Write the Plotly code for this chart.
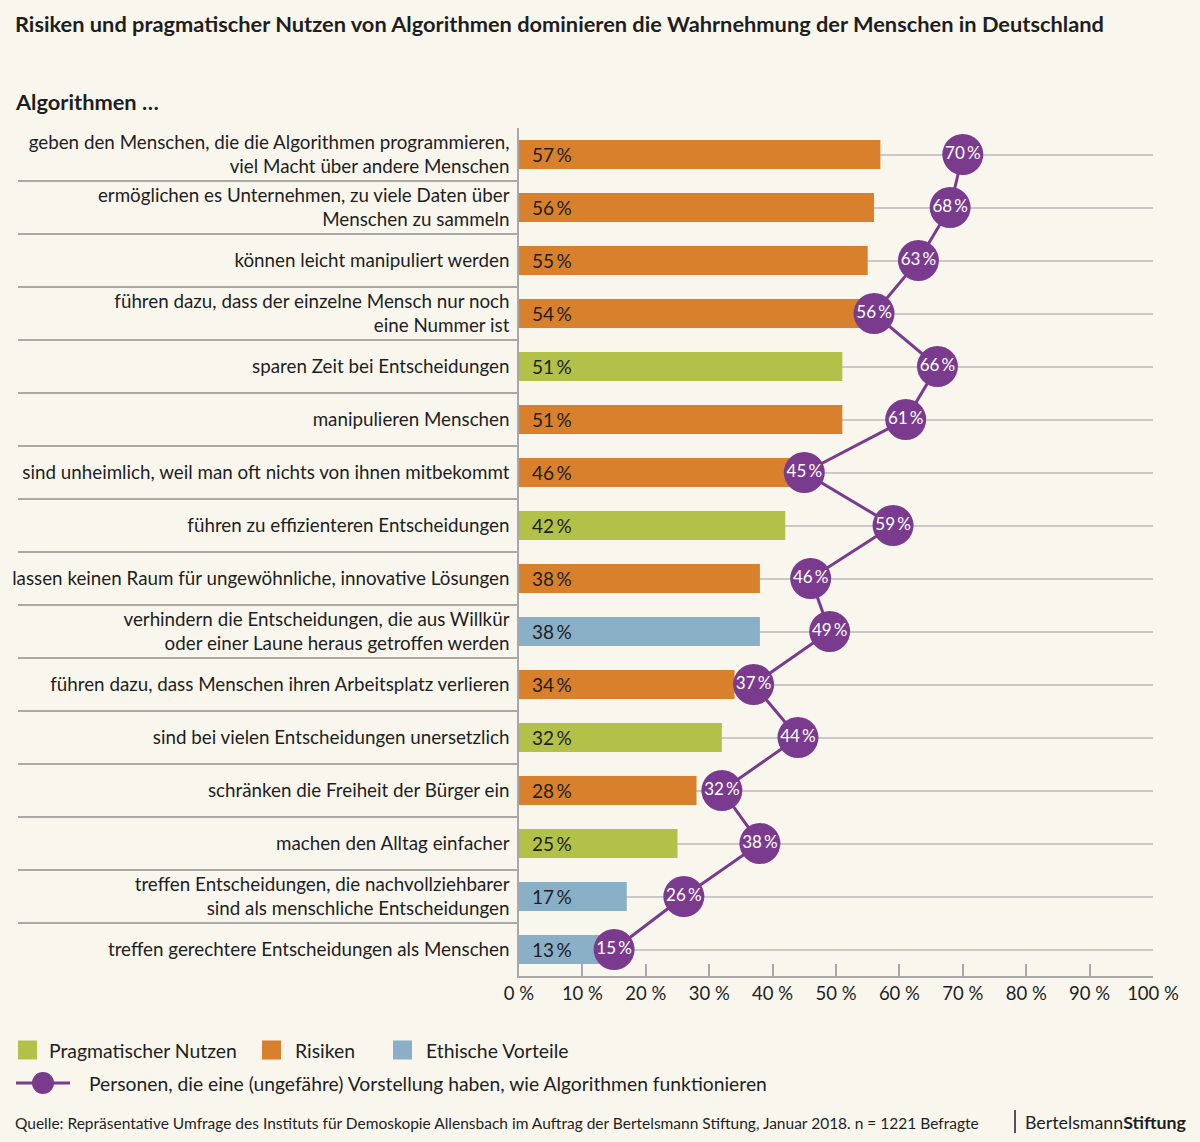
import plotly.graph_objects as go

categories = [
    "geben den Menschen, die die Algorithmen programmieren,<br>viel Macht über andere Menschen",
    "ermöglichen es Unternehmen, zu viele Daten über<br>Menschen zu sammeln",
    "können leicht manipuliert werden",
    "führen dazu, dass der einzelne Mensch nur noch<br>eine Nummer ist",
    "sparen Zeit bei Entscheidungen",
    "manipulieren Menschen",
    "sind unheimlich, weil man oft nichts von ihnen mitbekommt",
    "führen zu effizienteren Entscheidungen",
    "lassen keinen Raum für ungewöhnliche, innovative Lösungen",
    "verhindern die Entscheidungen, die aus Willkür<br>oder einer Laune heraus getroffen werden",
    "führen dazu, dass Menschen ihren Arbeitsplatz verlieren",
    "sind bei vielen Entscheidungen unersetzlich",
    "schränken die Freiheit der Bürger ein",
    "machen den Alltag einfacher",
    "treffen Entscheidungen, die nachvollziehbarer<br>sind als menschliche Entscheidungen",
    "treffen gerechtere Entscheidungen als Menschen",
]
all_values = [57, 56, 55, 54, 51, 51, 46, 42, 38, 38, 34, 32, 28, 25, 17, 13]
groups = ["R", "R", "R", "R", "P", "R", "R", "P", "R", "E", "R", "P", "R", "P", "E", "E"]
knowers = [70, 68, 63, 56, 66, 61, 45, 59, 46, 49, 37, 44, 32, 38, 26, 15]
tick_vals = [0, 10, 20, 30, 40, 50, 60, 70, 80, 90, 100]
tick_text = ["0 %", "10 %", "20 %", "30 %", "40 %", "50 %", "60 %", "70 %", "80 %", "90 %", "100 %"]
group_names = {"P": "Pragmatischer Nutzen", "R": "Risiken", "E": "Ethische Vorteile"}
line_name = "Personen, die eine (ungefähre) Vorstellung haben, wie Algorithmen funktionieren"

COL = {"P": "#B2C248", "R": "#D8802B", "E": "#8AB0C8"}
PURPLE = "#7A3A8D"
BG = "#F9F6EE"
TXT = "#1E1E1E"
FONT = "Lato"

W, H = 1200, 1142
L, R, T, B = 519, 47, 128, 166
PW, PH = W - L - R, H - T - B


def px(x):
    return (x - L) / PW


def py(y):
    return 1 - (y - T) / PH


idx = list(range(len(categories)))
fig = go.Figure()
fig.add_trace(go.Bar(
    x=all_values, y=idx, orientation="h",
    marker=dict(color=[COL[g] for g in groups], line=dict(width=0)),
    width=0.55, showlegend=False, hoverinfo="skip",
))
fig.add_trace(go.Scatter(
    x=knowers, y=idx, mode="lines+markers+text",
    line=dict(color=PURPLE, width=3),
    marker=dict(color=PURPLE, size=41, line=dict(width=0)),
    text=[f"{v}\u2009%" for v in knowers], textposition="middle center",
    textfont=dict(family=FONT, size=17, color="white"),
    showlegend=False, hoverinfo="skip",
))

annotations = []
for i, v in enumerate(all_values):
    annotations.append(dict(x=0, y=i, xref="x", yref="y", text=f"{v}\u2009%", showarrow=False,
                            xanchor="left", xshift=11, font=dict(family=FONT, size=19, color=TXT)))

annotations += [
    dict(x=px(13), y=py(24), xref="paper", yref="paper", xanchor="left", yanchor="middle",
         text="<b>Risiken und pragmatischer Nutzen von Algorithmen dominieren die Wahrnehmung der Menschen in Deutschland</b>",
         showarrow=False, font=dict(family=FONT, size=21.8, color=TXT)),
    dict(x=px(13), y=py(102), xref="paper", yref="paper", xanchor="left", yanchor="middle",
         text="<b>Algorithmen …</b>", showarrow=False, font=dict(family=FONT, size=21.8, color=TXT)),
]

shapes = []
# separators in label area
for i in range(len(categories) - 1):
    shapes.append(dict(type="line", xref="paper", yref="y", x0=px(18), x1=0, y0=i + 0.5, y1=i + 0.5,
                       line=dict(color="#8F8F8F", width=1.5), layer="below"))

# legend
leg_y = 1050
items = [("P", 18, 47), ("R", 262, 293), ("E", 393, 424)]
for g, sx, tx in items:
    shapes.append(dict(type="rect", xref="paper", yref="paper", x0=px(sx), x1=px(sx + 19),
                       y0=py(leg_y - 9.5), y1=py(leg_y + 9.5), fillcolor=COL[g], line=dict(width=0)))
    annotations.append(dict(x=px(tx), y=py(leg_y), xref="paper", yref="paper", xanchor="left",
                            yanchor="middle", text=group_names[g], showarrow=False,
                            font=dict(family=FONT, size=19.4, color=TXT)))
ly = 1083
shapes.append(dict(type="line", xref="paper", yref="paper", x0=px(16), x1=px(70), y0=py(ly), y1=py(ly),
                   line=dict(color=PURPLE, width=3)))
shapes.append(dict(type="circle", xref="paper", yref="paper", x0=px(32), x1=px(54), y0=py(ly - 11), y1=py(ly + 11),
                   fillcolor=PURPLE, line=dict(width=0)))
annotations.append(dict(x=px(87), y=py(ly), xref="paper", yref="paper", xanchor="left", yanchor="middle",
                        text=line_name, showarrow=False, font=dict(family=FONT, size=19.3, color=TXT)))

# footer
annotations.append(dict(x=px(13), y=py(1123), xref="paper", yref="paper", xanchor="left", yanchor="middle",
                        text="Quelle: Repräsentative Umfrage des Instituts für Demoskopie Allensbach im Auftrag der Bertelsmann Stiftung, Januar 2018. n = 1221 Befragte",
                        showarrow=False, font=dict(family=FONT, size=15.5, color=TXT)))
shapes.append(dict(type="line", xref="paper", yref="paper", x0=px(1015), x1=px(1015), y0=py(1110), y1=py(1133),
                   line=dict(color=TXT, width=1.5)))
annotations.append(dict(x=px(1023), y=py(1122), xref="paper", yref="paper", xanchor="left", yanchor="middle",
                        text="Bertelsmann<b>Stiftung</b>", showarrow=False,
                        font=dict(family=FONT, size=17.8, color=TXT)))

fig.update_layout(
    width=W, height=H,
    margin=dict(l=L, r=R, t=T, b=B, pad=0, autoexpand=False),
    paper_bgcolor=BG, plot_bgcolor=BG,
    font=dict(family=FONT, color=TXT),
    shapes=shapes, annotations=annotations,
    xaxis=dict(range=[0, 100], tickvals=tick_vals, ticktext=tick_text, showgrid=False, zeroline=False,
               showline=True, linecolor="#A8A8A8", linewidth=1.5, ticks="inside", ticklen=12,
               tickcolor="#A8A8A8", tickwidth=1.5, tickfont=dict(family=FONT, size=18.5, color=TXT),
               fixedrange=True, automargin=False),
    yaxis=dict(range=[15.5, -0.5], tickvals=idx, ticktext=categories, showgrid=True, gridcolor="#C9C9C9",
               gridwidth=1.5, zeroline=False, showline=True, linecolor="#A8A8A8", linewidth=1.5,
               ticks="", ticklabelstandoff=4, tickfont=dict(family=FONT, size=18.8, color=TXT),
               fixedrange=True, automargin=False),
)

fig.write_html(
    "out.html",
    config={"displayModeBar": False},
    post_script="document.body.style.margin='0';document.body.style.background='" + BG + "';",
)
